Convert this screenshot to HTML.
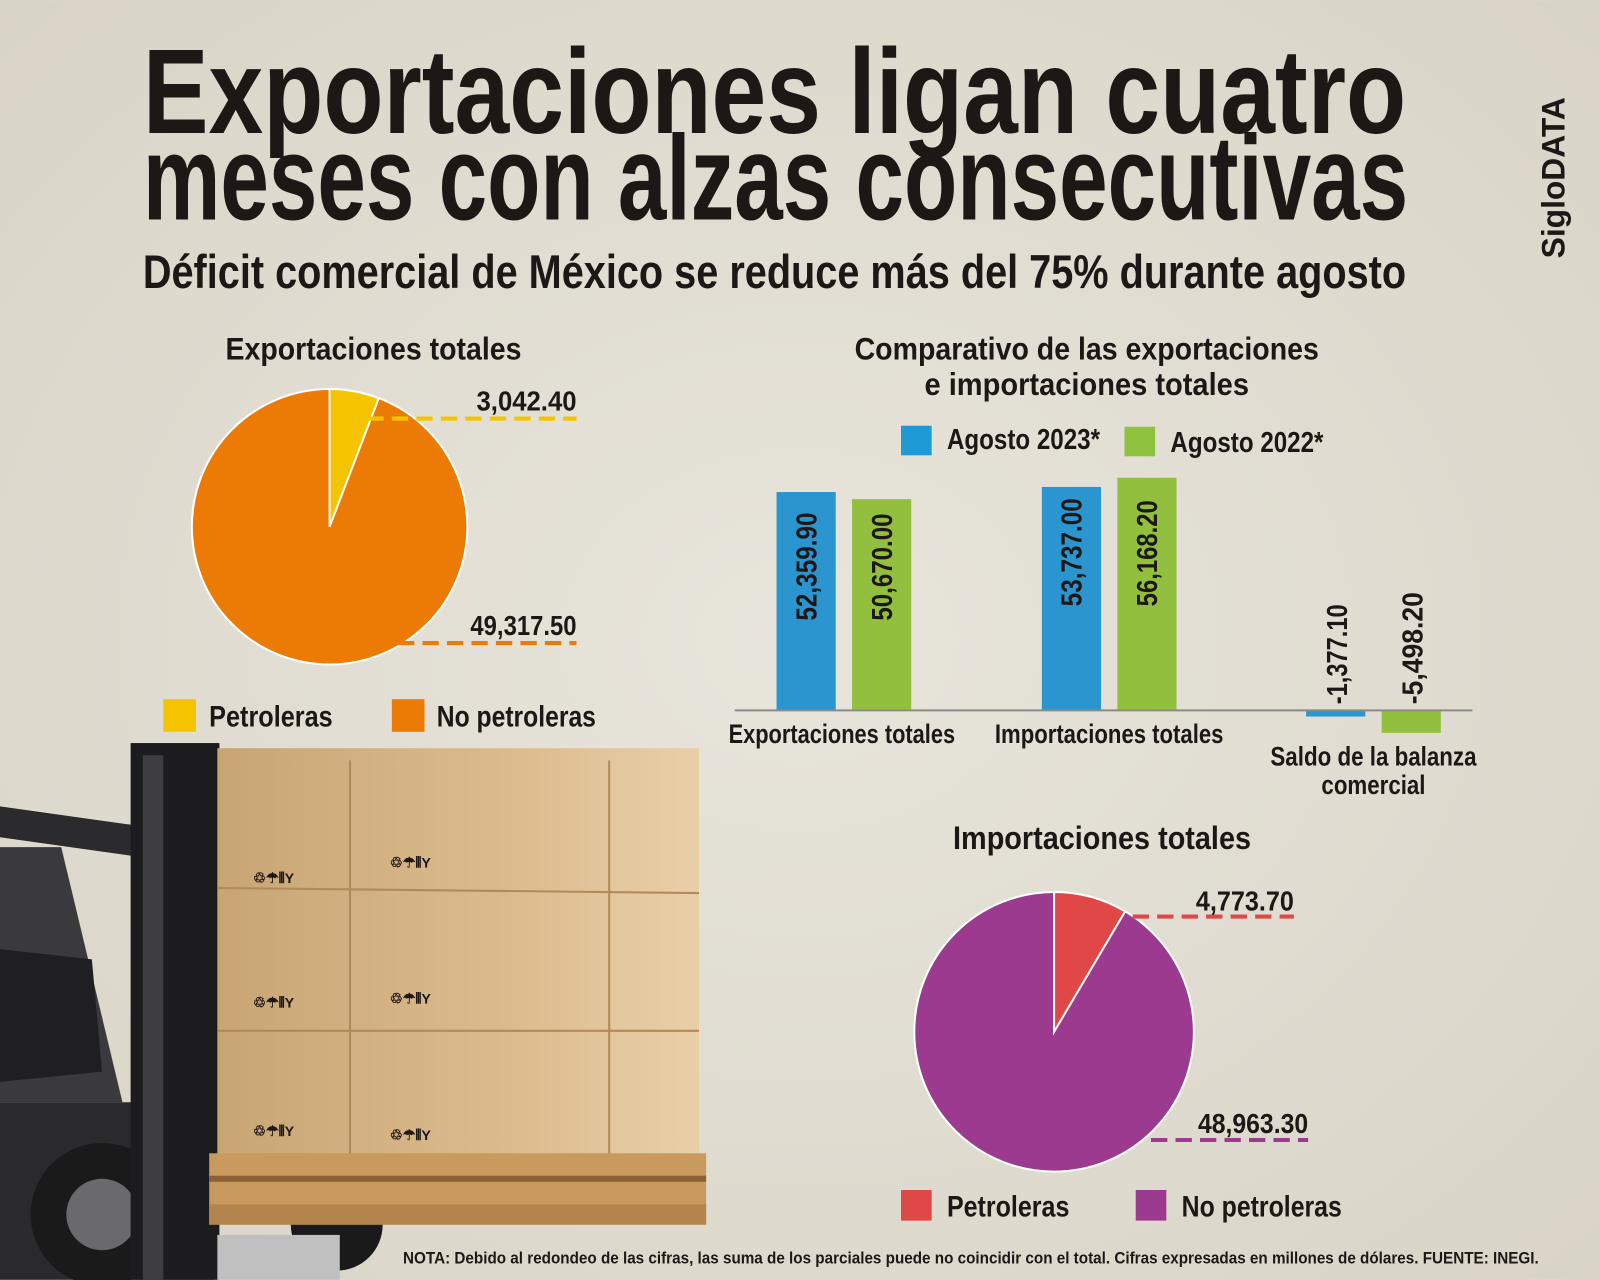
<!DOCTYPE html>
<html><head><meta charset="utf-8"><style>
html,body{margin:0;padding:0;background:#e3dfd4;}
svg{display:block}
text{font-family:"Liberation Sans",sans-serif;font-weight:bold;fill:#1d1815}
</style></head><body>
<svg width="1600" height="1280" viewBox="0 0 1568 1254" xmlns="http://www.w3.org/2000/svg">
<defs>
<radialGradient id="bg" cx="50%" cy="50%" r="70%"><stop offset="0" stop-color="#e8e5dc"/><stop offset="1" stop-color="#d9d4c7"/></radialGradient>
<linearGradient id="box" x1="0" y1="0" x2="1" y2="0"><stop offset="0" stop-color="#c9a574"/><stop offset="0.6" stop-color="#dbbb8d"/><stop offset="1" stop-color="#e9cfa8"/></linearGradient>
</defs>
<rect width="1568" height="1254" fill="url(#bg)"/>

<!-- Titles -->
<text x="140" y="130" font-size="118" textLength="1238" lengthAdjust="spacingAndGlyphs">Exportaciones ligan cuatro</text>
<text x="140" y="215" font-size="118" textLength="1240" lengthAdjust="spacingAndGlyphs">meses con alzas consecutivas</text>
<text x="140" y="282" font-size="46" textLength="1238" lengthAdjust="spacingAndGlyphs" fill="#2a2522">Déficit comercial de México se reduce más del 75% durante agosto</text>
<text transform="translate(1533,253) rotate(-90)" font-size="32" textLength="158" lengthAdjust="spacingAndGlyphs">SigloDATA</text>

<!-- Pie 1 -->
<text x="366" y="352" font-size="31" text-anchor="middle" textLength="290" lengthAdjust="spacingAndGlyphs">Exportaciones totales</text>
<circle cx="323" cy="516" r="135" fill="#ec7b06" stroke="#fff" stroke-width="2"/>
<path d="M323,516 L323,381 A135,135 0 0 1 371.2,390.1 Z" fill="#f5c400" stroke="#fff" stroke-width="2"/>
<line x1="360" y1="410" x2="565" y2="410" stroke="#f5c400" stroke-width="4" stroke-dasharray="16,8"/>
<text x="565" y="402" font-size="27" text-anchor="end" textLength="98" lengthAdjust="spacingAndGlyphs">3,042.40</text>
<line x1="390" y1="630" x2="565" y2="630" stroke="#ec7b06" stroke-width="4" stroke-dasharray="16,8"/>
<text x="565" y="622" font-size="27" text-anchor="end" textLength="104" lengthAdjust="spacingAndGlyphs">49,317.50</text>
<rect x="160" y="685" width="32" height="32" fill="#f5c400"/>
<text x="205" y="712" font-size="29" textLength="121" lengthAdjust="spacingAndGlyphs">Petroleras</text>
<rect x="384" y="685" width="32" height="32" fill="#ec7b06"/>
<text x="428" y="712" font-size="29" textLength="156" lengthAdjust="spacingAndGlyphs">No petroleras</text>

<!-- Bar chart -->
<text x="1065" y="352" font-size="31" text-anchor="middle" textLength="455" lengthAdjust="spacingAndGlyphs">Comparativo de las exportaciones</text>
<text x="1065" y="387" font-size="31" text-anchor="middle" textLength="318" lengthAdjust="spacingAndGlyphs">e importaciones totales</text>
<rect x="883" y="417" width="30" height="29" fill="#1e9ad6"/>
<text x="928" y="440" font-size="28" textLength="150" lengthAdjust="spacingAndGlyphs">Agosto 2023*</text>
<rect x="1102" y="418" width="30" height="29" fill="#8fc23f"/>
<text x="1147" y="443" font-size="28" textLength="150" lengthAdjust="spacingAndGlyphs">Agosto 2022*</text>

<rect x="761" y="482" width="58" height="214" fill="#2a95cf"/>
<rect x="835" y="489" width="58" height="207" fill="#93bf3e"/>
<rect x="1021" y="477" width="58" height="219" fill="#2a95cf"/>
<rect x="1095" y="468" width="58" height="228" fill="#93bf3e"/>
<rect x="1280" y="696" width="58" height="6" fill="#2a95cf"/>
<rect x="1354" y="696" width="58" height="22" fill="#93bf3e"/>
<line x1="720" y1="696" x2="1443" y2="696" stroke="#8a8a88" stroke-width="2"/>

<text transform="translate(800,608) rotate(-90)" font-size="28" textLength="106" lengthAdjust="spacingAndGlyphs">52,359.90</text>
<text transform="translate(874,608) rotate(-90)" font-size="28" textLength="105" lengthAdjust="spacingAndGlyphs">50,670.00</text>
<text transform="translate(1060,594) rotate(-90)" font-size="28" textLength="106" lengthAdjust="spacingAndGlyphs">53,737.00</text>
<text transform="translate(1134,594) rotate(-90)" font-size="28" textLength="104" lengthAdjust="spacingAndGlyphs">56,168.20</text>
<text transform="translate(1320,690) rotate(-90)" font-size="28" textLength="98" lengthAdjust="spacingAndGlyphs">-1,377.10</text>
<text transform="translate(1394,690) rotate(-90)" font-size="28" textLength="110" lengthAdjust="spacingAndGlyphs">-5,498.20</text>

<text x="825" y="728" font-size="26" text-anchor="middle" textLength="222" lengthAdjust="spacingAndGlyphs">Exportaciones totales</text>
<text x="1087" y="728" font-size="26" text-anchor="middle" textLength="224" lengthAdjust="spacingAndGlyphs">Importaciones totales</text>
<text x="1346" y="750" font-size="26" text-anchor="middle" textLength="202" lengthAdjust="spacingAndGlyphs">Saldo de la balanza</text>
<text x="1346" y="778" font-size="26" text-anchor="middle" textLength="102" lengthAdjust="spacingAndGlyphs">comercial</text>

<!-- Pie 2 -->
<text x="1080" y="832" font-size="32" text-anchor="middle" textLength="292" lengthAdjust="spacingAndGlyphs">Importaciones totales</text>
<circle cx="1033" cy="1011" r="137" fill="#9b3a8f" stroke="#fff" stroke-width="2"/>
<path d="M1033,1011 L1033,874 A137,137 0 0 1 1102.6,893 Z" fill="#e04848" stroke="#fff" stroke-width="2"/>
<line x1="1110" y1="898" x2="1268" y2="898" stroke="#e04848" stroke-width="4" stroke-dasharray="16,8"/>
<text x="1268" y="892" font-size="27" text-anchor="end" textLength="96" lengthAdjust="spacingAndGlyphs">4,773.70</text>
<line x1="1128" y1="1117" x2="1282" y2="1117" stroke="#9b3a8f" stroke-width="4" stroke-dasharray="16,8"/>
<text x="1282" y="1110" font-size="27" text-anchor="end" textLength="108" lengthAdjust="spacingAndGlyphs">48,963.30</text>
<rect x="883" y="1166" width="30" height="30" fill="#e04848"/>
<text x="928" y="1192" font-size="29" textLength="120" lengthAdjust="spacingAndGlyphs">Petroleras</text>
<rect x="1113" y="1166" width="30" height="30" fill="#9b3a8f"/>
<text x="1158" y="1192" font-size="29" textLength="157" lengthAdjust="spacingAndGlyphs">No petroleras</text>

<!-- Forklift illustration -->
<g>
<rect x="0" y="790" width="150" height="30" fill="#2b2b2d" transform="rotate(8 0 790)"/>
<path d="M0,830 L60,830 L120,1080 L0,1080 Z" fill="#3a3a3c"/>
<path d="M0,930 L90,940 L100,1050 L0,1060 Z" fill="#1f1f21"/>
<rect x="0" y="1080" width="210" height="174" fill="#2a2a2c"/>
<circle cx="100" cy="1190" r="70" fill="#1a1a1b"/>
<circle cx="100" cy="1190" r="35" fill="#6a6a6c"/>
<circle cx="330" cy="1200" r="45" fill="#1a1a1b"/>
<rect x="128" y="728" width="87" height="526" fill="#1c1c1e"/>
<rect x="140" y="740" width="20" height="514" fill="#3e3e40"/>
<rect x="213" y="733" width="472" height="407" fill="url(#box)"/>
<g stroke="#b08a5a" stroke-width="2" fill="none">
<line x1="343" y1="745" x2="343" y2="1140"/><line x1="597" y1="745" x2="597" y2="1140"/>
<line x1="213" y1="870" x2="685" y2="875"/><line x1="213" y1="1010" x2="685" y2="1010"/>
</g>
<text x="248" y="865" font-size="14" fill="#3a2e22">♲☂⫴Y</text>
<text x="382" y="850" font-size="14" fill="#3a2e22">♲☂⫴Y</text>
<text x="248" y="987" font-size="14" fill="#3a2e22">♲☂⫴Y</text>
<text x="382" y="983" font-size="14" fill="#3a2e22">♲☂⫴Y</text>
<text x="248" y="1113" font-size="14" fill="#3a2e22">♲☂⫴Y</text>
<text x="382" y="1117" font-size="14" fill="#3a2e22">♲☂⫴Y</text>
<rect x="205" y="1130" width="487" height="70" fill="#c89a5e"/>
<rect x="205" y="1152" width="487" height="6" fill="#8a6234"/>
<rect x="205" y="1180" width="487" height="20" fill="#b3844c"/>
<rect x="213" y="1210" width="120" height="44" fill="#c0c0c0"/>
</g>

<text x="395" y="1238" font-size="16" textLength="1113" lengthAdjust="spacingAndGlyphs">NOTA: Debido al redondeo de las cifras, las suma de los parciales puede no coincidir con el total. Cifras expresadas en millones de dólares.   FUENTE: INEGI.</text>
</svg>
</body></html>
